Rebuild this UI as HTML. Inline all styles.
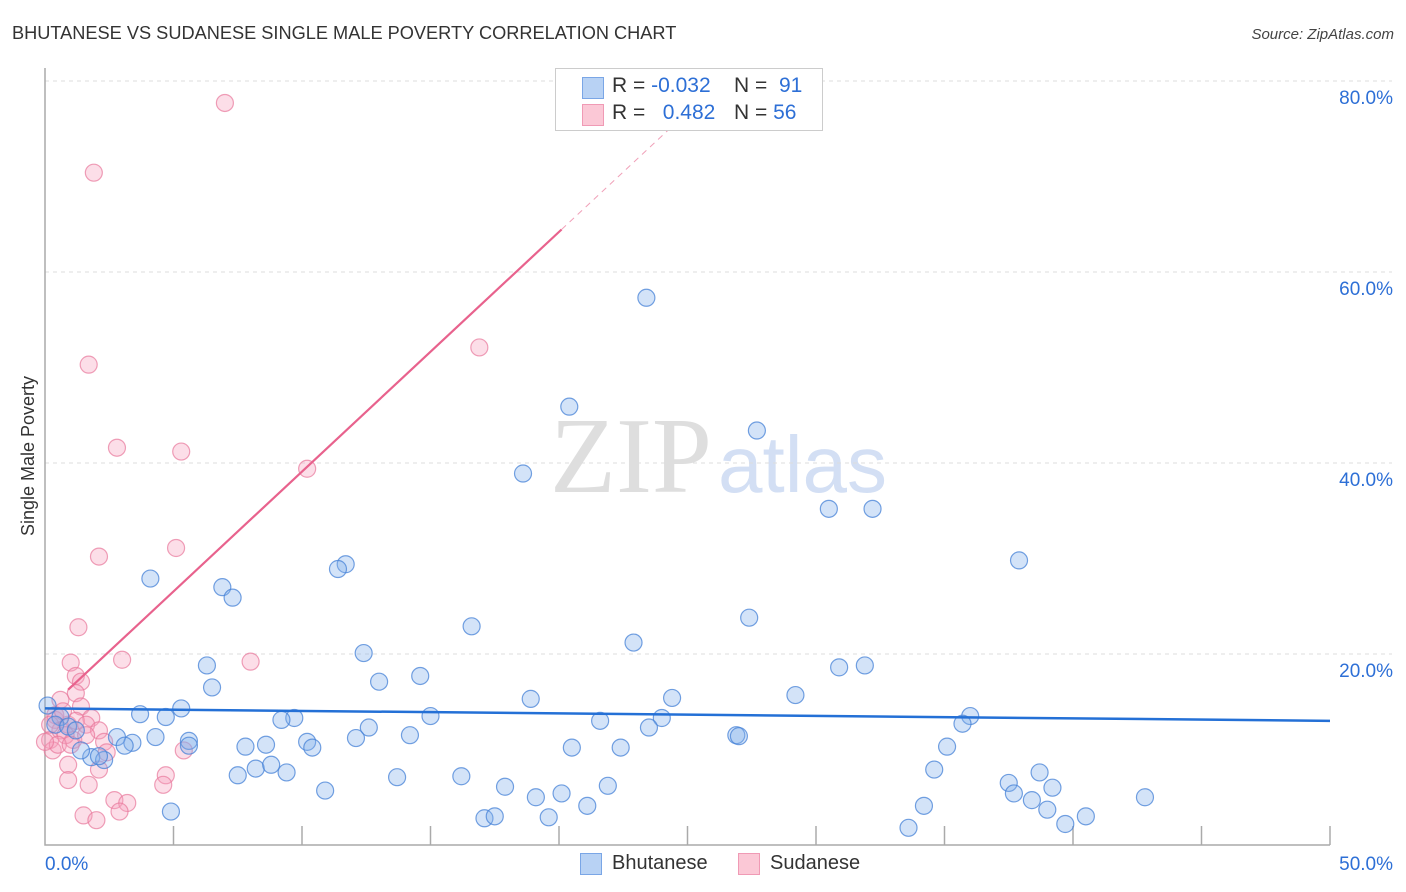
<!DOCTYPE html>
<html><head><meta charset="utf-8"><style>
body{margin:0;background:#fff;font-family:"Liberation Sans",sans-serif}
#wrap{position:relative;width:1406px;height:892px;overflow:hidden}
</style></head><body>
<div id="wrap">
<svg id="svg" width="1406" height="892">
<text x="12" y="39" font-size="18.2" fill="#333">BHUTANESE VS SUDANESE SINGLE MALE POVERTY CORRELATION CHART</text>
<text x="1394" y="39" font-size="15" fill="#444" font-style="italic" text-anchor="end">Source: ZipAtlas.com</text>
<text x="34" y="456" font-size="18" fill="#333" text-anchor="middle" transform="rotate(-90 34 456)">Single Male Poverty</text>
<text x="712" y="492" font-size="108" fill="#dedede" font-family="Liberation Serif,serif" text-anchor="end">ZIP</text>
<text x="718" y="492" font-size="80" fill="#d3dff4">atlas</text>
<g id="grid"></g><g id="marks"></g>
</svg>
<div style="position:absolute;left:555px;top:68px;width:266px;height:61px;border:1px solid #ccc;background:#fff;font-size:21px;color:#333">
 <div style="position:absolute;left:26px;top:8px;width:20px;height:20px;background:#b8d2f4;border:1px solid #7aa6e6"></div>
 <div style="position:absolute;left:56px;top:5px">R = <span style="color:#2d6fd6">-0.032</span></div>
 <div style="position:absolute;left:178px;top:5px">N = &nbsp;<span style="color:#2d6fd6">91</span></div>
 <div style="position:absolute;left:26px;top:35px;width:20px;height:20px;background:#fbc8d6;border:1px solid #f09ab5"></div>
 <div style="position:absolute;left:56px;top:32px">R = &nbsp;&nbsp;<span style="color:#2d6fd6">0.482</span></div>
 <div style="position:absolute;left:178px;top:32px">N = <span style="color:#2d6fd6">56</span></div>
</div>
<div style="position:absolute;left:580px;top:852px;font-size:20px;color:#333">
 <span style="position:absolute;left:0;top:1px;width:20px;height:20px;background:#b8d2f4;border:1px solid #7aa6e6"></span>
 <span style="position:absolute;left:32px;top:0;white-space:nowrap">Bhutanese</span>
 <span style="position:absolute;left:158px;top:1px;width:20px;height:20px;background:#fbc8d6;border:1px solid #f09ab5"></span>
 <span style="position:absolute;left:190px;top:0;white-space:nowrap">Sudanese</span>
</div>
</div>
<script>
const yTicks=[20,40,60,80];
const xTickLabels=["0.0%","50.0%"];
const blueX=[23.4,20.4,27.7,18.6,30.5,32.2,37.9,4.1,11.7,11.4,6.9,7.3,27.4,16.6,22.9,12.4,6.3,30.9,31.9,6.5,13.0,14.6,18.9,24.4,29.2,5.3,3.7,4.7,9.7,9.2,15.0,21.6,24.0,36.0,35.7,23.5,12.6,2.8,4.3,3.4,5.6,3.1,5.6,7.8,8.6,10.2,10.4,12.1,14.2,20.5,22.4,26.9,27.0,35.1,1.8,2.3,2.1,1.4,7.5,8.2,8.8,9.4,13.7,16.2,34.6,38.7,37.5,37.7,39.2,10.9,17.9,19.1,20.1,21.9,21.1,38.4,39.0,4.9,17.1,17.5,19.6,34.2,33.6,39.7,40.5,42.8,0.1,0.6,0.4,0.9,1.2];
const blueY=[57.3,45.9,43.4,38.9,35.2,35.2,29.8,27.9,29.4,28.9,27.0,25.9,23.8,22.9,21.2,20.1,18.8,18.6,18.8,16.5,17.1,17.7,15.3,15.4,15.7,14.3,13.7,13.4,13.3,13.1,13.5,13.0,13.3,13.5,12.7,12.3,12.3,11.3,11.3,10.7,10.9,10.4,10.4,10.3,10.5,10.8,10.2,11.2,11.5,10.2,10.2,11.5,11.4,10.3,9.2,8.9,9.3,9.9,7.3,8.0,8.4,7.6,7.1,7.2,7.9,7.6,6.5,5.4,6.0,5.7,6.1,5.0,5.4,6.2,4.1,4.7,3.7,3.5,2.8,3.0,2.9,4.1,1.8,2.2,3.0,5.0,14.6,13.4,12.6,12.4,12.0];
const pinkX=[7.0,1.9,1.7,16.9,2.8,5.3,10.2,2.1,5.1,1.3,3.0,8.0,1.0,1.2,1.4,1.2,0.6,1.4,1.8,0.4,0.9,1.2,1.6,2.1,2.3,1.1,0.2,0.3,2.4,5.4,2.1,0.9,4.7,0.9,1.7,4.6,2.7,3.2,2.9,1.5,2.0,0.4,0.6,0.2,0.8,0.5,0.0,0.7,1.6,1.0];
const pinkY=[77.7,70.4,50.3,52.1,41.6,41.2,39.4,30.2,31.1,22.8,19.4,19.2,19.1,17.7,17.1,15.9,15.2,14.5,13.3,13.1,12.6,13.0,12.6,12.0,10.8,11.0,11.0,9.9,9.7,9.9,7.9,8.4,7.3,6.8,6.3,6.3,4.7,4.4,3.5,3.1,2.6,13.6,12.0,12.6,11.5,10.5,10.8,14.0,11.5,10.5];
const blueTrend=[14.3,13.0];
const pinkTrend={a:14.0,b:2.51,x0:0.9,xs:20.1,x1:24.6};
const X=v=>45+v*25.7, Y=v=>845-v*9.55;
const NS="http://www.w3.org/2000/svg";
function mk(p,t,a){const e=document.createElementNS(NS,t);for(const k in a)e.setAttribute(k,a[k]);p.appendChild(e);return e;}
const grid=document.getElementById('grid'),marks=document.getElementById('marks');
yTicks.forEach(t=>{
 const l=mk(grid,'line',{x1:45,x2:1392,y1:Y(t),y2:Y(t),stroke:'#ddd','stroke-dasharray':'4,4'});
 
 
 const tx=mk(grid,'text',{x:1393,y:Y(t)+23,'font-size':19,fill:'#2d6fd6','text-anchor':'end'});tx.textContent=t.toFixed(1)+'%';
 
 
});
const ax=mk(grid,'path',{d:'M45,68V845H1330',stroke:'#aaa',fill:'none','stroke-width':1.5});


for(let i=1;i<=10;i++){const t=mk(grid,'line',{x1:X(i*5),x2:X(i*5),y1:826,y2:845,stroke:'#aaa','stroke-width':1.5});
 
 }
xTickLabels.forEach((s,i)=>{const t=mk(grid,'text',{x:i?1393:45,y:870,'font-size':19,fill:'#2d6fd6','text-anchor':i?'end':'start'});t.textContent=s;
 
 });
function pts(xs,ys,fill,stroke,name){xs.forEach((x,i)=>{const c=mk(marks,'circle',{cx:X(x),cy:Y(ys[i]),r:8.5,fill:fill,stroke:stroke,'stroke-width':1.2});
 
 });}
pts(pinkX,pinkY,'rgba(245,160,188,0.35)','rgba(232,120,155,0.7)','sudanese-point');
pts(blueX,blueY,'rgba(130,175,235,0.35)','rgba(70,130,215,0.75)','bhutanese-point');
const pl=mk(marks,'line',{x1:X(pinkTrend.x0),y1:Y(pinkTrend.a+pinkTrend.b*pinkTrend.x0),x2:X(pinkTrend.xs),y2:Y(pinkTrend.a+pinkTrend.b*pinkTrend.xs),stroke:'#e8628d','stroke-width':2.2});


const pd=mk(marks,'line',{x1:X(pinkTrend.xs),y1:Y(pinkTrend.a+pinkTrend.b*pinkTrend.xs),x2:X(pinkTrend.x1),y2:Y(pinkTrend.a+pinkTrend.b*pinkTrend.x1),stroke:'#f0a0b8','stroke-width':1,'stroke-dasharray':'6,5'});


const bl=mk(marks,'line',{x1:X(0),y1:Y(blueTrend[0]),x2:X(50),y2:Y(blueTrend[1]),stroke:'#2470d6','stroke-width':2.5});


</script>
</body></html>
